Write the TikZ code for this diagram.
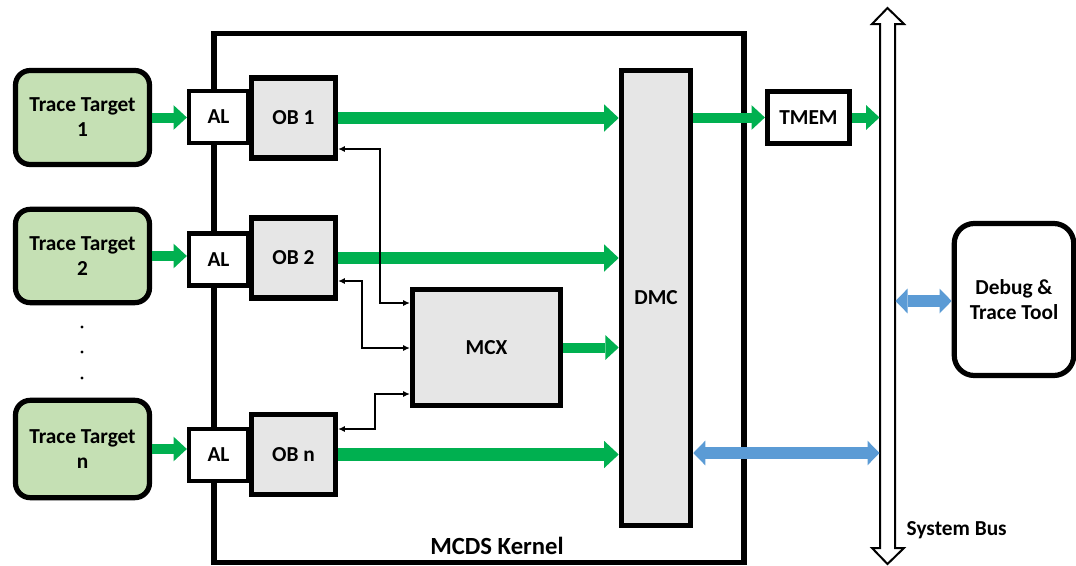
\documentclass[tikz,border=0pt]{standalone}
\usepackage{fontspec}
\setmainfont{Carlito}
\usetikzlibrary{arrows.meta}
\definecolor{ttgreen}{HTML}{C5E0B4}
\definecolor{boxgray}{HTML}{E6E6E6}
\definecolor{flowgreen}{HTML}{00B050}
\definecolor{busblue}{HTML}{5B9BD5}
\begin{document}
\begin{tikzpicture}[x=0.75pt,y=-0.75pt,
  every node/.style={font=\bfseries\fontsize{16}{18.75}\selectfont, align=center},
  blk/.style={draw=black, line width=3.9pt, inner sep=0pt},
  tgtbox/.style={blk, fill=ttgreen, rounded corners=11pt, minimum width=100.5pt},
  albox/.style={blk, line width=3.2pt, fill=white, minimum width=44.25pt, minimum height=39pt},
  obbox/.style={blk, fill=boxgray, minimum width=63pt, minimum height=60pt},
  gsmall/.style={flowgreen, line width=7.5pt, -{Triangle[width=18.5pt,length=10pt,line width=0pt]}},
  gbig/.style={flowgreen, line width=9.5pt, -{Triangle[width=20.5pt,length=11pt,line width=0pt]}},
  bdbl/.style={busblue, line width=9.5pt, {Triangle[width=18.5pt,length=9pt,line width=0pt]}-{Triangle[width=18.5pt,length=9pt,line width=0pt]}},
  link/.style={black, line width=1.1pt, {Latex[length=5pt,width=4.5pt]}-{Latex[length=5pt,width=4.5pt]}}
]
\useasboundingbox (0,0) rectangle (1076,565);

% kernel
\node[blk, minimum width=397.5pt, minimum height=396.75pt] (kernel) at (479,298) {};
\node[font=\bfseries\fontsize{18.5}{21}\selectfont] (klabel) at (497,546) {MCDS Kernel};

% trace targets
\node[tgtbox, minimum height=70.5pt] (tt1) at (82.5,117.5) {Trace Target\\1};
\node[tgtbox, minimum height=70pt] (tt2) at (82.5,256) {Trace Target\\2};
\node[tgtbox, minimum height=73pt] (ttn) at (82.5,449) {Trace Target\\n};
\fill (82,327) circle (1.2pt);
\fill (82,352) circle (1.2pt);
\fill (82,378) circle (1.2pt);

% AL and OB
\node[albox] (al1) at (218.5,117) {AL};
\node[albox] (al2) at (218.5,259.5) {AL};
\node[albox] (aln) at (218.5,455) {AL};
\node[obbox] (ob1) at (293.5,118) {OB 1};
\node[obbox] (ob2) at (293.5,258) {OB 2};
\node[obbox] (obn) at (293.5,454.5) {OB n};

% DMC, MCX, TMEM
\node[blk, fill=boxgray, minimum width=52pt, minimum height=341.6pt] (dmc) at (656,298) {DMC};
\node[blk, fill=boxgray, minimum width=111pt, minimum height=87pt] (mcx) at (486.5,347.5) {MCX};
\node[blk, fill=white, minimum width=61.5pt, minimum height=39pt] (tmem) at (808.5,117.5) {TMEM};

% debug tool
\node[blk, fill=white, rounded corners=15pt, minimum width=89.6pt, minimum height=114pt] (dbg) at (1014,299.5) {Debug \&\\Trace Tool};

% system bus
\draw[line width=1.5pt, fill=white, line join=miter]
  (880,24) -- (872,24) -- (887.5,8) -- (904,24) -- (895,24) -- (895,548)
  -- (904,548) -- (887.5,564) -- (872,548) -- (880,548) -- cycle;
\coordinate (busL) at (879.5,300);
\coordinate (busR) at (895.5,300);
\node[anchor=west] (buslabel) at (902,530) {System Bus};

% green flows
\draw[gsmall] (tt1.east) -- (tt1.east -| al1.west);
\draw[gsmall] (tt2.east) -- (tt2.east -| al2.west);
\draw[gsmall] (ttn.east) -- (ttn.east -| aln.west);
\draw[gbig] (ob1.east) -- (ob1.east -| dmc.west);
\draw[gbig] (ob2.east) -- (ob2.east -| dmc.west);
\draw[gbig] (obn.east) -- (obn.east -| dmc.west);
\draw[gsmall] (mcx.east) -- (mcx.east -| dmc.west);
\draw[gsmall] (tmem.west -| dmc.east) -- (tmem.west);
\draw[gsmall] (tmem.east) -- (tmem.east -| busL);

% blue bidirectional
\draw[bdbl] (dmc.east |- 0,453) -- (busL |- 0,453);
\draw[bdbl] (busR |- 0,301) -- (dbg.west |- 0,301);

% control links
\draw[link] (ob1.east |- 0,149) -- (380,149) -- (380,303) -- (mcx.west |- 0,303);
\draw[link] (ob2.east |- 0,281) -- (362,281) -- (362,348) -- (mcx.west |- 0,348);
\draw[link] (obn.east |- 0,429) -- (375,429) -- (375,394) -- (mcx.west |- 0,394);
\end{tikzpicture}
\end{document}
